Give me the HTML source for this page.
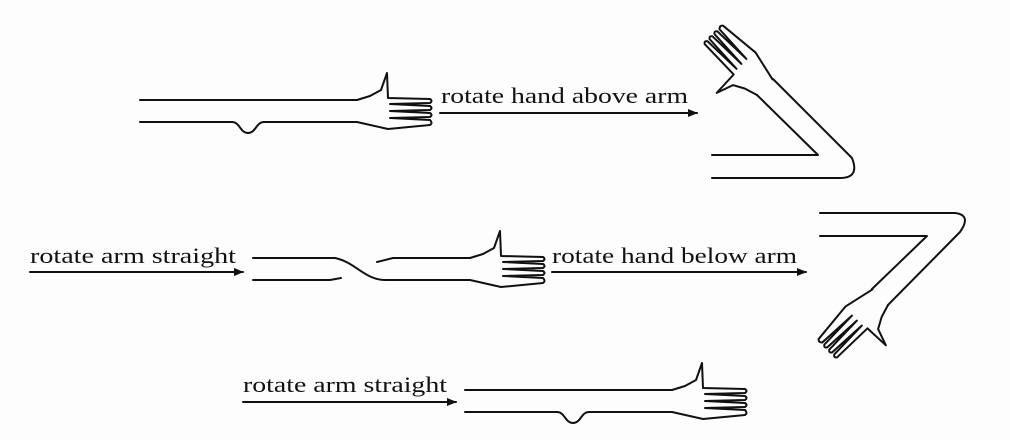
<!DOCTYPE html>
<html><head><meta charset="utf-8"><style>
html,body{margin:0;padding:0;background:#fdfdfd;}
svg{display:block;}
text{font-family:"Liberation Serif",serif;font-size:22px;fill:#111;}
.l{fill:none;stroke:#111;stroke-width:2;stroke-linejoin:round;stroke-linecap:round;}
</style></head><body>
<svg width="1010" height="440" viewBox="0 0 1010 440">
<defs>
<marker id="ah" markerWidth="10" markerHeight="8" refX="9" refY="4" orient="auto" markerUnits="userSpaceOnUse">
<path d="M0,0 L10,4 L0,8 Z" fill="#111"/></marker>
<path id="hand" class="l" d="M0,0 L13,-4 L24,-10 L30,-27 L31,-2 L73,-1 Q76,1 73,3 L33,4 L73,6 Q76,8 73,10 L33,11 L73,13 Q76,15 73,17 L33,18 L73,20 Q76,23 73,25 L31,29 L0,22"/>
</defs>

<g>
<path class="l" d="M140,100 L357,100"/>
<path class="l" d="M140,122 L232,122 C240,122 240,133 248,133 C256,133 256,122 264,122 L357,122"/>
<use href="#hand" transform="translate(357,100)"/>
</g>
<g>
<text x="441" y="103" textLength="247" lengthAdjust="spacingAndGlyphs">rotate hand above arm</text>
<line class="l" x1="440" y1="113" x2="697" y2="113" marker-end="url(#ah)"/>
</g>

<g>
<path class="l" d="M712,155 L818,155 L757,95"/>
<path class="l" d="M712,178 L840,178 Q860,178 852,158 L773,79"/>
<use href="#hand" transform="translate(757,95) rotate(-135)"/>
</g>

<g>
<text x="30" y="263" textLength="206" lengthAdjust="spacingAndGlyphs">rotate arm straight</text>
<line class="l" x1="30" y1="272" x2="243" y2="272" marker-end="url(#ah)"/>
</g>
<g>
<path class="l" d="M253,280 L330,280 L341,278"/>
<path class="l" d="M253,258 L335,258 C355,262 365,280 385,280 L470,280"/>
<path class="l" d="M377,262 L393,258 L470,258"/>
<use href="#hand" transform="translate(470,258)"/>
</g>
<g>
<text x="552" y="263" textLength="245" lengthAdjust="spacingAndGlyphs">rotate hand below arm</text>
<line class="l" x1="552" y1="272" x2="806" y2="272" marker-end="url(#ah)"/>
</g>

<g>
<path class="l" d="M820,213 L955,213 Q972,215 960,232 L888,305"/>
<path class="l" d="M820,236 L927,236 L872,289"/>
<use href="#hand" transform="translate(888,305) rotate(135)"/>
</g>

<g>
<text x="243" y="392" textLength="204" lengthAdjust="spacingAndGlyphs">rotate arm straight</text>
<line class="l" x1="243" y1="402" x2="456" y2="402" marker-end="url(#ah)"/>
</g>
<g>
<path class="l" d="M465,390 L672,390"/>
<path class="l" d="M465,412 L557,412 C565,412 565,423 573,423 C581,423 581,412 589,412 L672,412"/>
<use href="#hand" transform="translate(672,390)"/>
</g>
</svg>
</body></html>
